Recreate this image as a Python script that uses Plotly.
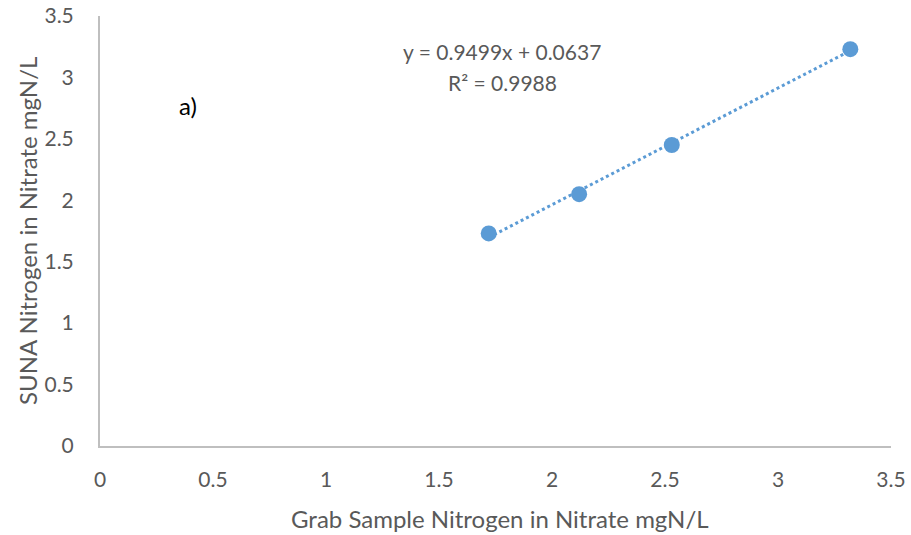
import plotly.graph_objects as go

grab_x = [1.72, 2.12, 2.53, 3.32]
suna_y = [1.73, 2.05, 2.45, 3.23]
slope = 0.9499
intercept = 0.0637
r2 = 0.9988
x_ticks = [0, 0.5, 1, 1.5, 2, 2.5, 3, 3.5]
y_ticks = [0, 0.5, 1, 1.5, 2, 2.5, 3, 3.5]
x_title = "Grab Sample Nitrogen in Nitrate mgN/L"
y_title = "SUNA Nitrogen in Nitrate mgN/L"
panel_label = "a)"

FONT = "Lato"
GRAY = "#595959"
AXC = "#BFBFBF"
BLUE = "#5B9BD5"

L, R, T, B = 100, 20, 16, 89
W, H = 911, 535
PW, PH = W - L - R, H - T - B


def paper_x(px):
    return (px - L) / PW


def paper_y(py):
    return (H - B - py) / PH


tx = [min(grab_x), max(grab_x)]
ty = [slope * v + intercept for v in tx]

fig = go.Figure()
fig.add_trace(go.Scatter(x=tx, y=ty, mode="lines",
                         line=dict(color=BLUE, width=3, dash="dot"),
                         showlegend=False, hoverinfo="skip"))
fig.add_trace(go.Scatter(x=grab_x, y=suna_y, mode="markers",
                         marker=dict(color=BLUE, size=16),
                         showlegend=False))

fig.update_layout(
    width=W, height=H,
    margin=dict(l=L, r=R, t=T, b=B),
    plot_bgcolor="white", paper_bgcolor="white",
    font=dict(family=FONT, color=GRAY, size=21),
    xaxis=dict(range=[0, 3.5], tickvals=x_ticks, ticktext=[f"{v:g}" for v in x_ticks],
               showgrid=False, zeroline=False, showline=True, linecolor=AXC, linewidth=2,
               ticks="", ticklabelstandoff=14, automargin=False,
               tickfont=dict(size=21, color=GRAY)),
    yaxis=dict(range=[0, 3.5], tickvals=y_ticks, ticktext=[f"{v:g}" for v in y_ticks],
               showgrid=False, zeroline=False, showline=True, linecolor=AXC, linewidth=2,
               ticks="", ticklabelstandoff=20, automargin=False,
               tickfont=dict(size=21, color=GRAY)),
    annotations=[
        dict(xref="paper", yref="paper", x=paper_x(500), y=paper_y(518), text=x_title,
             xanchor="center", yanchor="middle",
             showarrow=False, font=dict(size=24, color=GRAY)),
        dict(xref="paper", yref="paper", x=paper_x(27), y=paper_y(231), text=y_title,
             xanchor="center", yanchor="middle",
             textangle=-90, showarrow=False, font=dict(size=24, color=GRAY)),
        dict(xref="paper", yref="paper", x=paper_x(502), y=paper_y(52),
             text=f"y = {slope}x + {intercept}", xanchor="center", yanchor="middle",
             showarrow=False, font=dict(size=21, color=GRAY)),
        dict(xref="paper", yref="paper", x=paper_x(502), y=paper_y(82),
             text=f"R² = {r2}", xanchor="center", yanchor="middle",
             showarrow=False, font=dict(size=21, color=GRAY)),
        dict(xref="paper", yref="paper", x=paper_x(188), y=paper_y(105),
             text=panel_label, xanchor="center", yanchor="middle",
             showarrow=False, font=dict(size=24, color="black")),
    ],
)

fig.write_html("out.html")
